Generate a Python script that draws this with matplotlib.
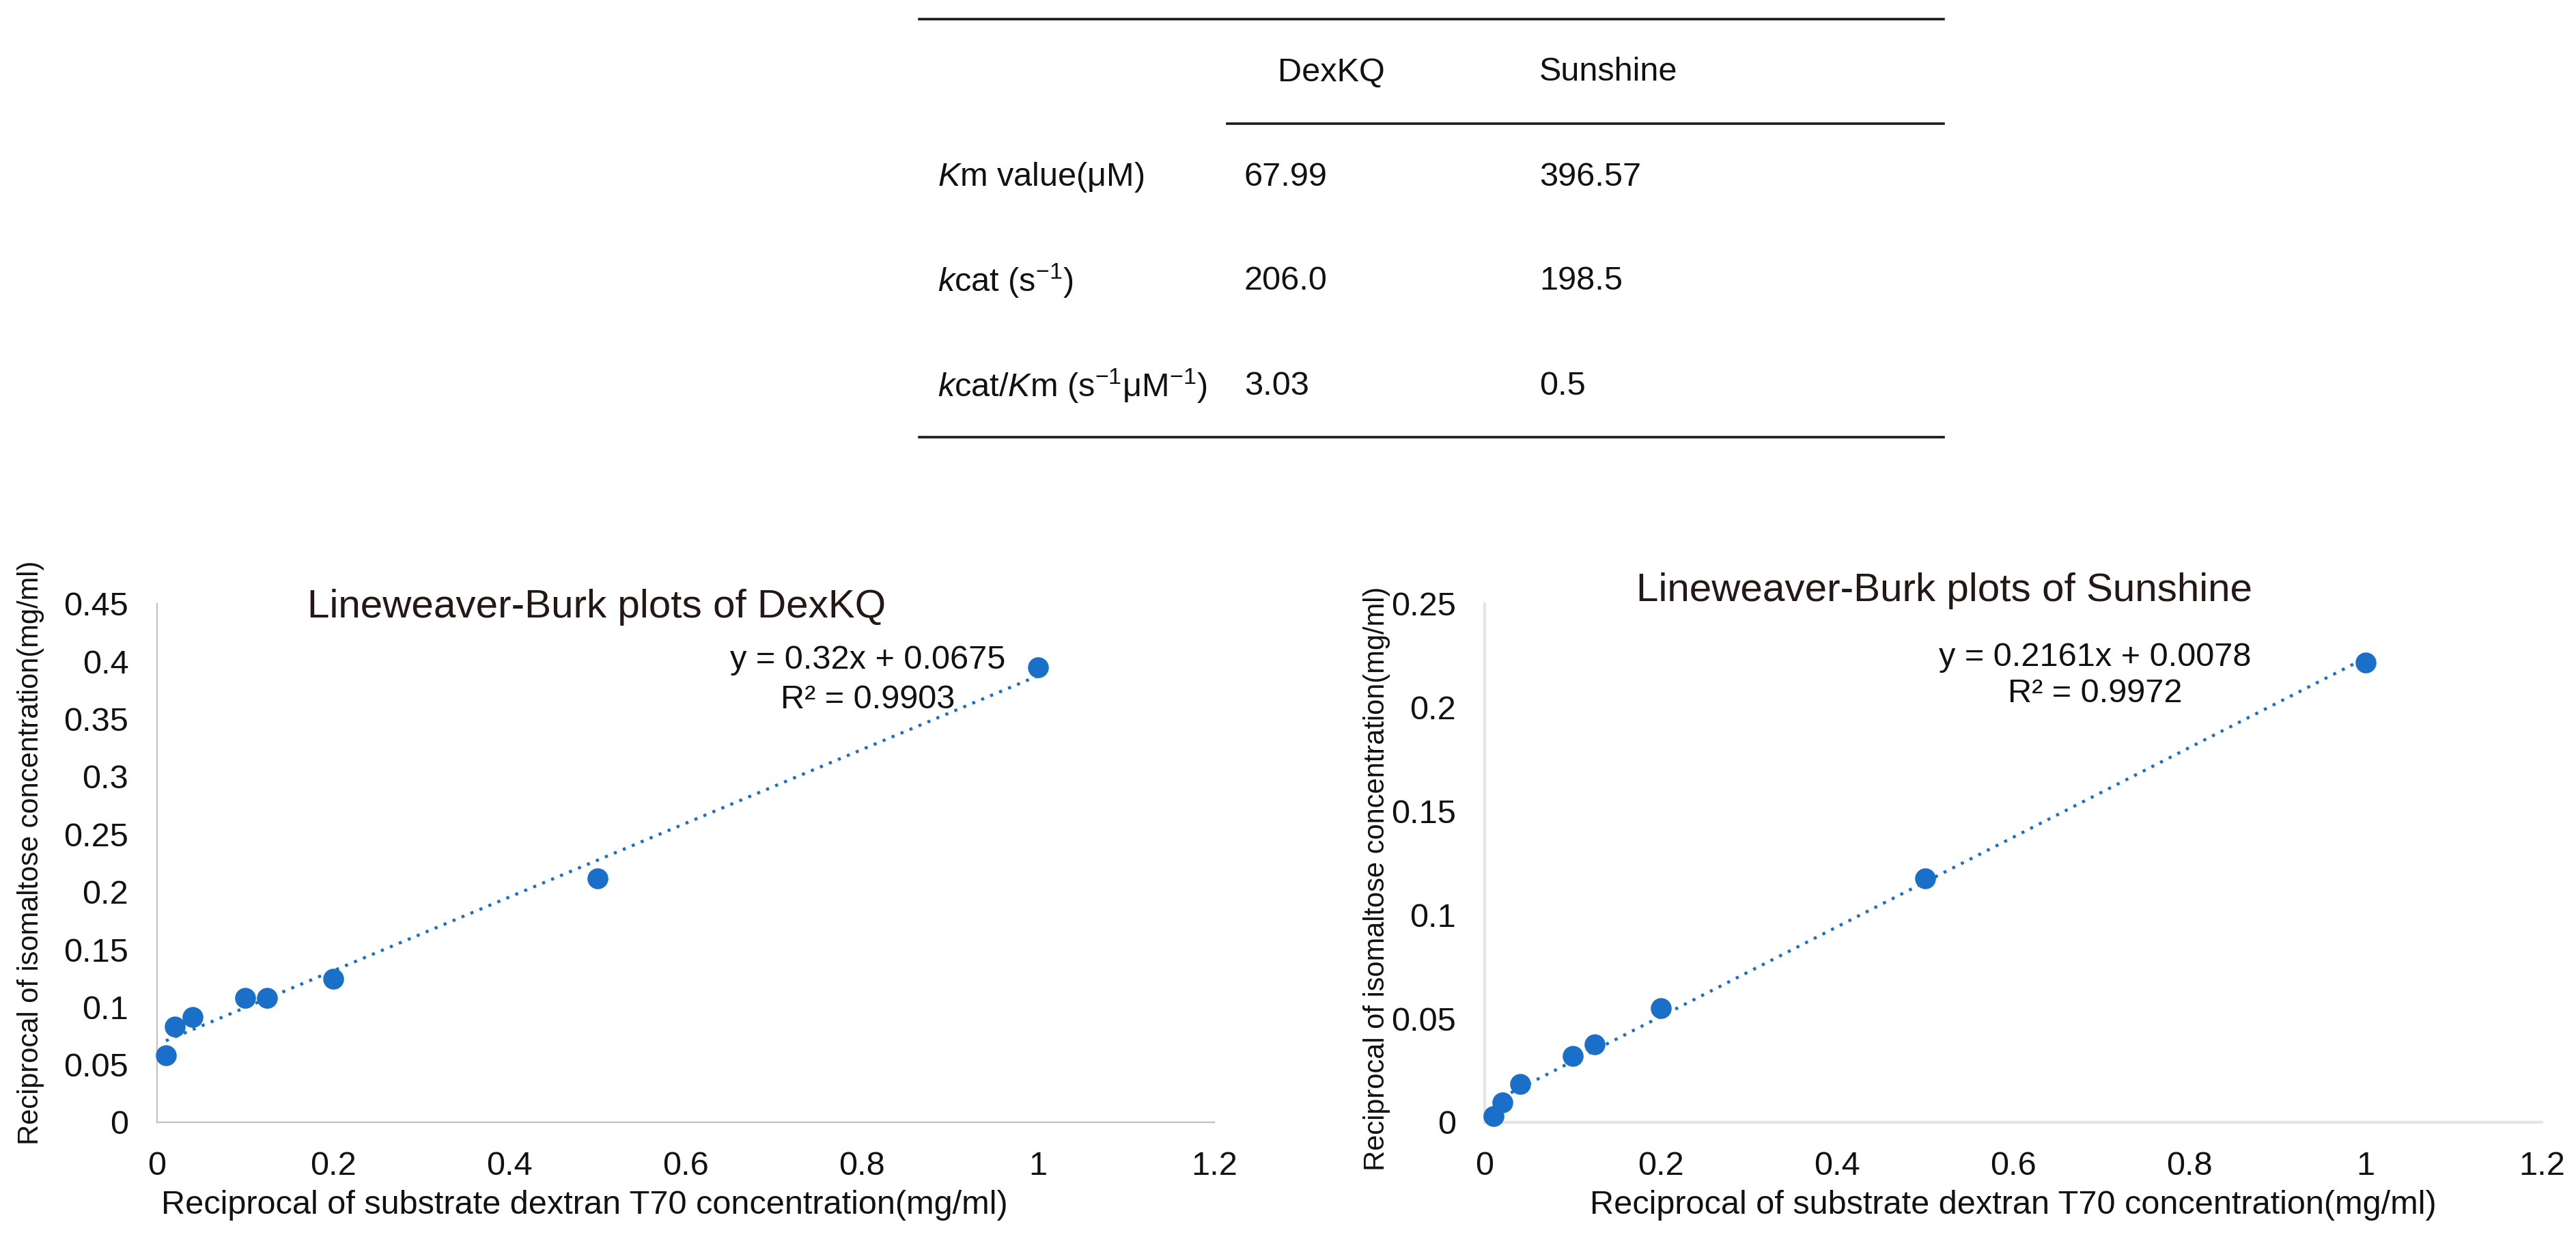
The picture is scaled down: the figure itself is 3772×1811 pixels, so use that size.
import matplotlib
matplotlib.use('Agg')
import matplotlib.pyplot as plt
from matplotlib.lines import Line2D
from matplotlib.ticker import FuncFormatter

# data
inv_substrate = [0.01, 0.02, 0.04, 0.1, 0.125, 0.2, 0.5, 1.0]
dexkq_inv_product = [0.058, 0.083, 0.0915, 0.108, 0.108, 0.1245, 0.2115, 0.395]
sunshine_inv_product = [0.003, 0.0094, 0.0185, 0.032, 0.0375, 0.055, 0.1175, 0.2217]

dexkq_fit = (0.32, 0.0675)
sunshine_fit = (0.2161, 0.0078)
dexkq_eq = ['y = 0.32x + 0.0675', 'R\u00b2 = 0.9903']
sunshine_eq = ['y = 0.2161x + 0.0078', 'R\u00b2 = 0.9972']

x_ticks = [0, 0.2, 0.4, 0.6, 0.8, 1.0, 1.2]
dexkq_y_ticks = [0, 0.05, 0.1, 0.15, 0.2, 0.25, 0.3, 0.35, 0.4, 0.45]
sunshine_y_ticks = [0, 0.05, 0.1, 0.15, 0.2, 0.25]

table_header = ['DexKQ', 'Sunshine']
table_rows = ['$\\mathit{K}$m value(\u03bcM)',
              '$\\mathit{k}$cat (s$^{-1}$)',
              '$\\mathit{k}$cat/$\\mathit{K}$m (s$^{-1}$\u03bcM$^{-1}$)']
table_dexkq = ['67.99', '206.0', '3.03']
table_sunshine = ['396.57', '198.5', '0.5']

x_label = 'Reciprocal of substrate dextran T70 concentration(mg/ml)'
y_label = 'Reciprocal of isomaltose concentration(mg/ml)'

plt.rcParams['font.family'] = ['Liberation Sans', 'DejaVu Sans']
plt.rcParams['mathtext.fontset'] = 'custom'
plt.rcParams['mathtext.rm'] = 'Liberation Sans'
plt.rcParams['mathtext.it'] = 'Liberation Sans:italic'

W, H = 3773, 1811
fig = plt.figure(figsize=(W / 100, H / 100), dpi=100)

blue = '#1a70c8'
title_col = '#231815'
txt_col = '#111111'


def px(x, y):
    # pixel position (from top-left) -> figure fraction
    return x / W, 1 - y / H


def make_panel(left, spine_col, spine_w, xs, ys, fit, eq, yticks, title,
               title_pos, eq_pos, xlab_x, ylab_pos):
    ax = fig.add_axes([left / W, 1 - 1643 / H, 1548 / W, 759 / H])
    ax.set_xlim(0, 1.2)
    ax.set_ylim(0, yticks[-1])
    ax.set_xticks(x_ticks)
    ax.set_yticks(yticks)
    fmt = FuncFormatter(lambda v, p: '%g' % round(v, 3))
    ax.xaxis.set_major_formatter(fmt)
    ax.yaxis.set_major_formatter(fmt)
    ax.tick_params(length=0, labelsize=35, labelcolor=txt_col, pad=30)
    for s in ['top', 'right']:
        ax.spines[s].set_visible(False)
    for s in ['left', 'bottom']:
        ax.spines[s].set_color(spine_col)
        ax.spines[s].set_linewidth(spine_w)

    m, b = fit
    x0, x1 = min(xs), max(xs)
    ax.plot([x0, x1], [m * x0 + b, m * x1 + b], color=blue, lw=3.2,
            dashes=(1, 2.2), zorder=2)
    ax.plot(xs, ys, 'o', color=blue, markersize=22, markeredgewidth=0,
            zorder=3, clip_on=False)

    ax.text(title_pos[0], title_pos[1], title, transform=ax.transAxes,
            fontsize=42, color=title_col, ha='left', va='baseline')
    ax.text(eq_pos[0], eq_pos[1], eq[0], transform=ax.transAxes,
            fontsize=35, color=txt_col, ha='center', va='baseline')
    ax.text(eq_pos[0], eq_pos[2], eq[1], transform=ax.transAxes,
            fontsize=35, color=txt_col, ha='center', va='baseline')
    ax.text(xlab_x, -0.1766, x_label, transform=ax.transAxes,
            fontsize=35, color=txt_col, ha='center', va='baseline')
    ax.text(ylab_pos[0], ylab_pos[1], y_label, transform=ax.transAxes,
            fontsize=30, color=txt_col, ha='center', va='center',
            rotation=90)
    return ax


make_panel(230, '#c4c4c4', 1.7, inv_substrate, dexkq_inv_product, dexkq_fit,
           dexkq_eq, dexkq_y_ticks, 'Lineweaver-Burk plots of DexKQ',
           (0.142, 0.974), (0.672, 0.8748, 0.798), 0.404, (-0.1195, 0.52))
make_panel(2174, '#e4e4e4', 3.0, inv_substrate, sunshine_inv_product,
           sunshine_fit, sunshine_eq, sunshine_y_ticks,
           'Lineweaver-Burk plots of Sunshine',
           (0.1434, 1.0053), (0.5775, 0.880, 0.810), 0.5, (-0.102, 0.47))

# kinetic parameter table
for (xa, xb, y) in [(1346, 2846, 27.5), (1797, 2846, 181), (1346, 2846, 640)]:
    (fx0, fy), (fx1, _) = px(xa, y), px(xb, y)
    fig.add_artist(Line2D([fx0, fx1], [fy, fy], color='#1a1a1a', lw=2.6))

for label, hx in zip(table_header, [1871, 2254]):
    fig.text(*px(hx, 106), label, fontsize=35, color=txt_col,
             ha='left', va='center')
for i, y in enumerate([259, 411, 565]):
    fig.text(*px(1373, y), table_rows[i], fontsize=35, color=txt_col,
             ha='left', va='center')
    fig.text(*px(1822, y), table_dexkq[i], fontsize=35, color=txt_col,
             ha='left', va='center')
    fig.text(*px(2254, y), table_sunshine[i], fontsize=35, color=txt_col,
             ha='left', va='center')

fig.savefig('out.png', dpi=100, facecolor='white')
